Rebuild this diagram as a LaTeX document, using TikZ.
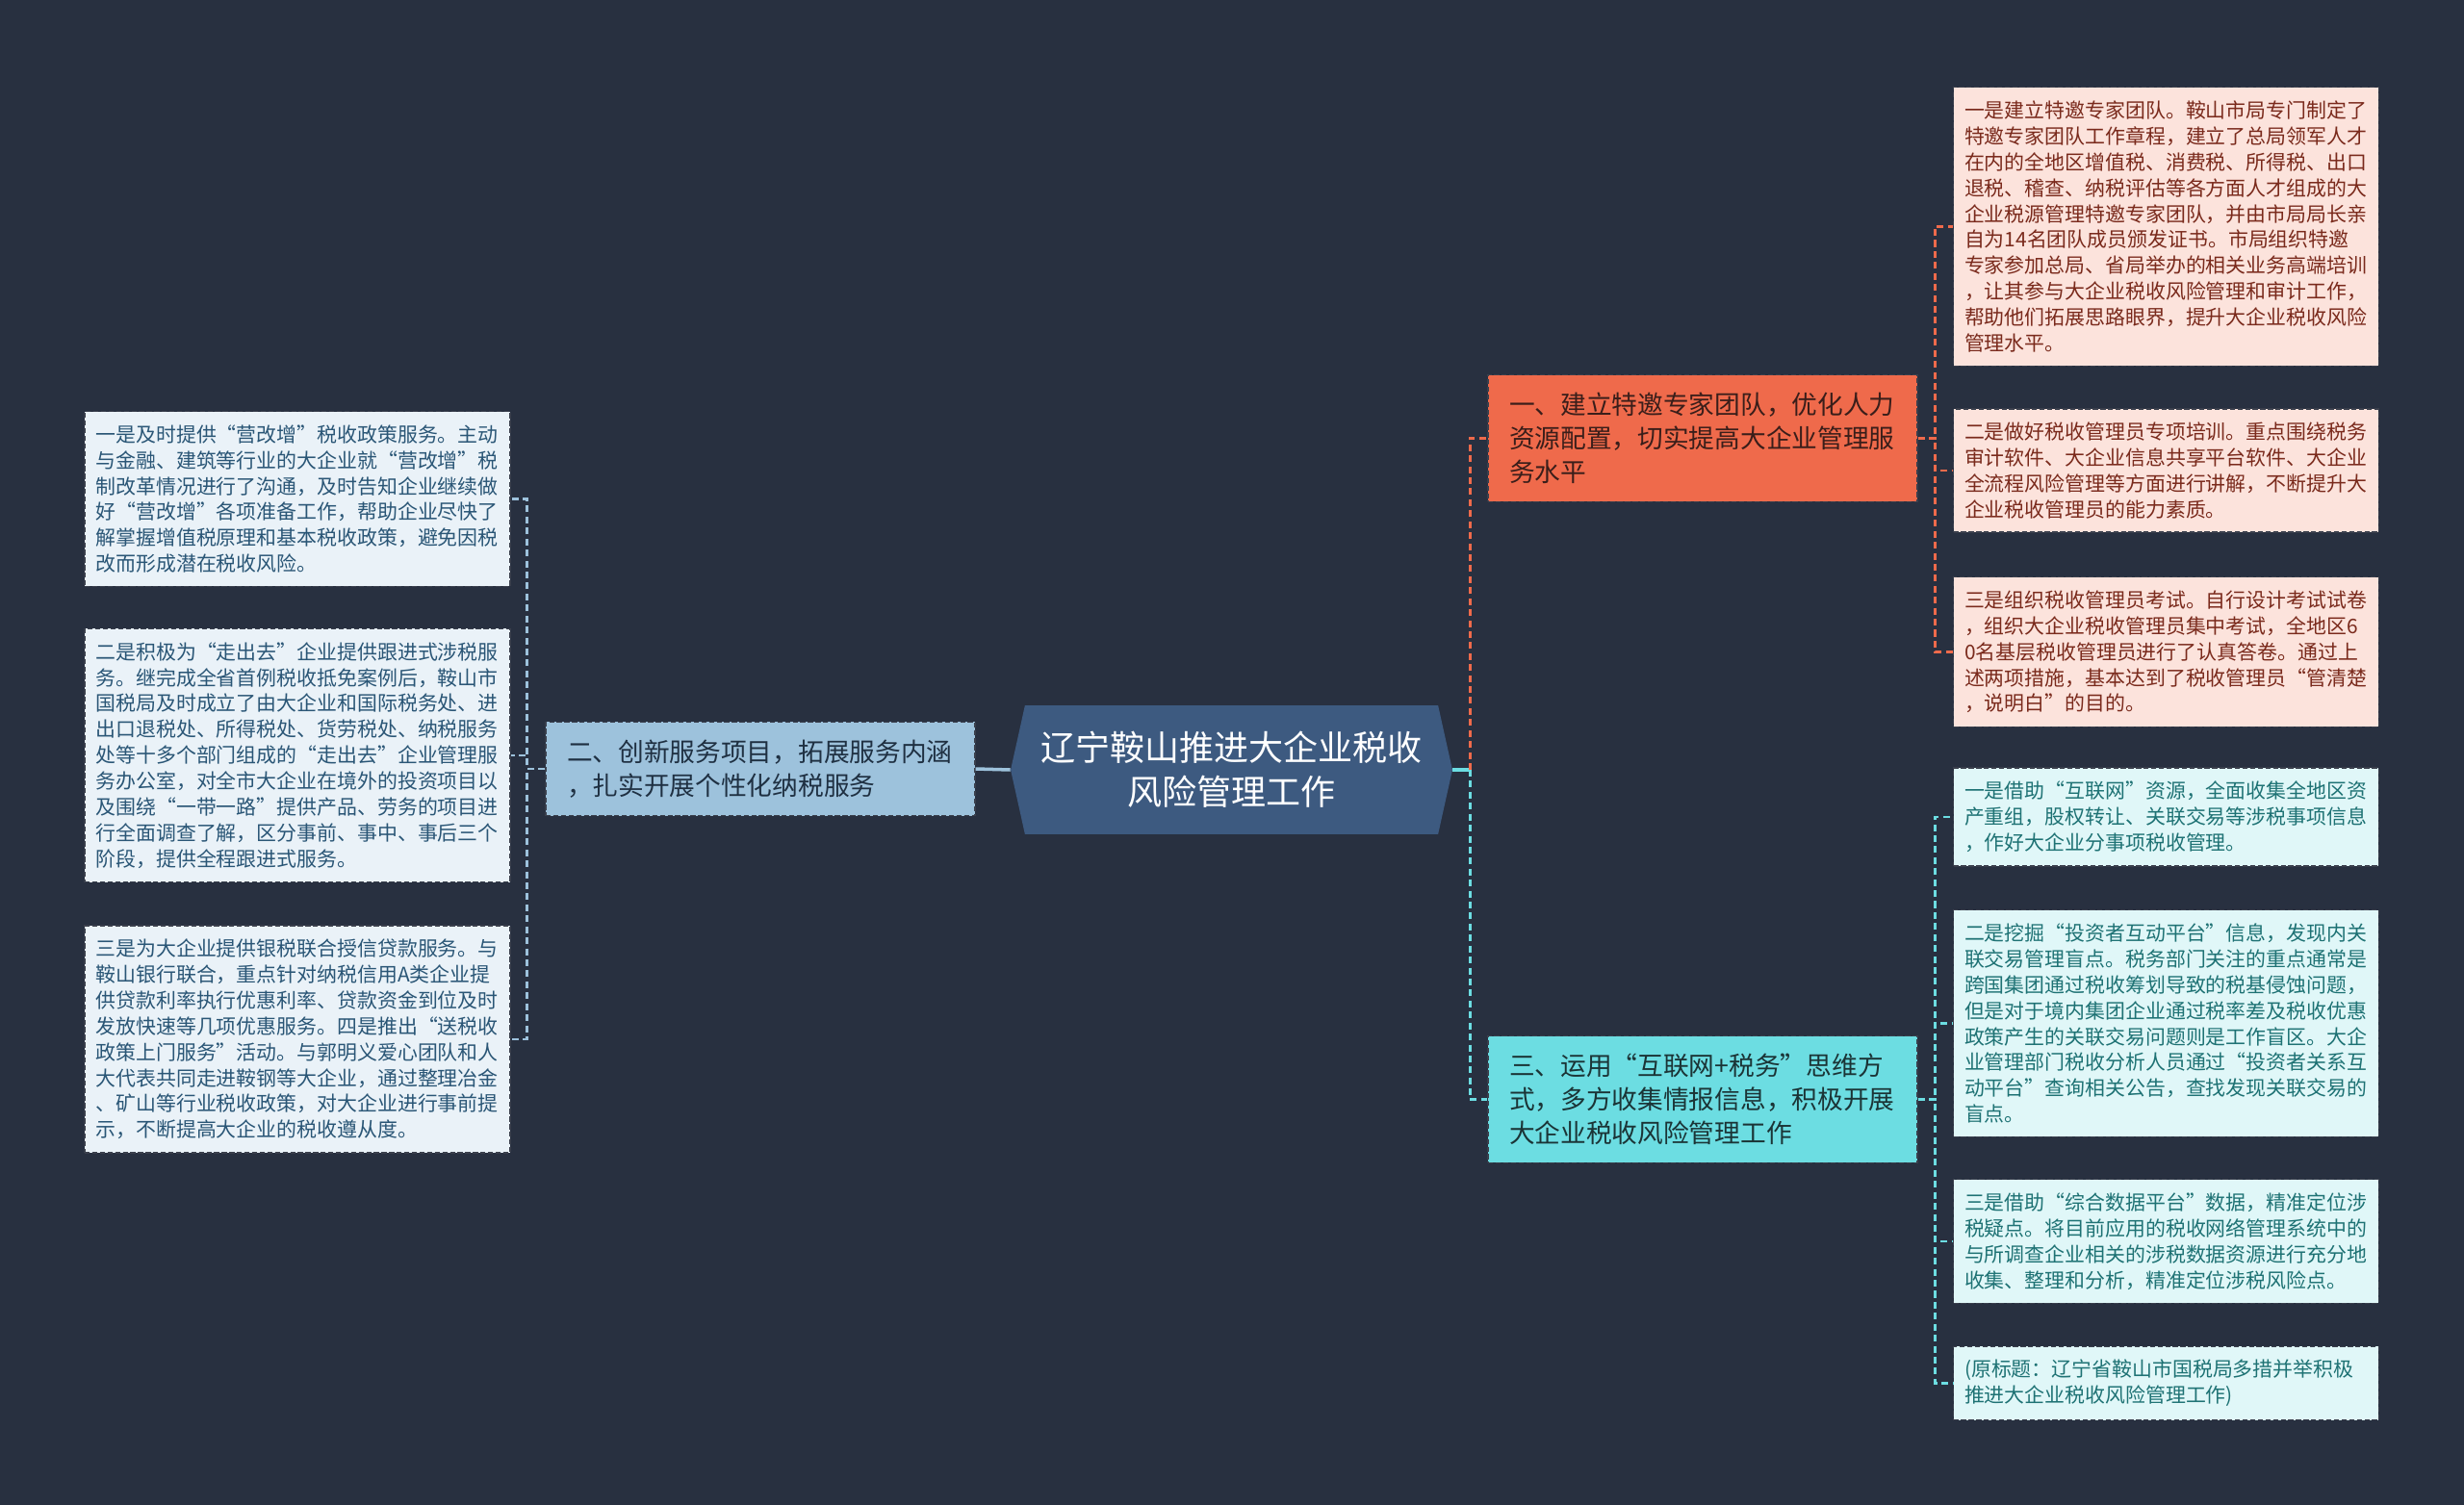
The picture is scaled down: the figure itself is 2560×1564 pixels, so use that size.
\documentclass[tikz,border=0pt]{standalone}
\usepackage{fontspec}
\newfontfamily\cjk{Noto Sans CJK SC}
\usepackage{tikz}
\definecolor{mmbg}{HTML}{283040}
\definecolor{mmhub}{HTML}{3D5A80}
\definecolor{mmedge}{HTML}{3A3F4C}
\definecolor{mmorange}{HTML}{EF6A4B}
\definecolor{mmcyan}{HTML}{6CDDE2}
\definecolor{mmblue}{HTML}{9DC2DC}
\definecolor{mmpinkfill}{HTML}{FCE3DC}
\definecolor{mmpinktext}{HTML}{7A2A1C}
\definecolor{mmicefill}{HTML}{E0F7F8}
\definecolor{mmicetext}{HTML}{1E7274}
\definecolor{mmskyfill}{HTML}{EAF2F8}
\definecolor{mmskytext}{HTML}{2A5676}
\usetikzlibrary{shapes.symbols}

\begin{document}
\begin{tikzpicture}[x=0.02cm,y=-0.02cm,
  taxhub/.style={shape=signal,signal to=east and west,signal pointer angle=155,
    fill=mmhub,text=white,minimum width=9.18cm,minimum height=2.68cm,
    align=center,inner sep=0pt,font=\cjk\fontsize{20.5}{26}\selectfont},
  taxbranch/.style={draw=mmedge,dash pattern=on 3pt off 1.5pt,line width=0.7pt,
    text width=8.04cm,align=left,inner xsep=0.44cm,inner ysep=0.37cm,
    font=\cjk\fontsize{15.2}{19.9}\selectfont},
  taxleaf/.style={draw=mmedge,dash pattern=on 3pt off 1.5pt,line width=0.7pt,
    text width=8.38cm,align=left,inner xsep=0.23cm,inner ysep=0.28cm,
    font=\cjk\fontsize{11.9}{15.3}\selectfont},
  taxlink/.style={line width=1.5pt,dash pattern=on 4pt off 2.5pt}
]
  % background
  \fill[mmbg] (0,0) rectangle (2560,1564);
  % centre topic
  \node[taxhub] (hub) at (1279.5,800) {辽宁鞍山推进大企业税收\\风险管理工作};
  % branch 1: experts (orange)
  \node[taxbranch,fill=mmorange,text={rgb,255:red,58;green,30;blue,26}] (br1) at (1769,455.5) {
    一、建立特邀专家团队，优化人力\\
    资源配置，切实提高大企业管理服\\
    务水平};
  % branch 2: services (blue)
  \node[taxbranch,fill=mmblue,text={rgb,255:red,31;green,48;blue,66}] (br2) at (790,799) {
    二、创新服务项目，拓展服务内涵\\
    ，扎实开展个性化纳税服务};
  % branch 3: internet + tax (cyan)
  \node[taxbranch,fill=mmcyan,text={rgb,255:red,27;green,52;blue,54}] (br3) at (1769,1142.5) {
    三、运用“互联网+税务”思维方\\
    式，多方收集情报信息，积极开展\\
    大企业税收风险管理工作};
  % leaves of branch 1
  \node[taxleaf,fill=mmpinkfill,text=mmpinktext] (r1) at (2250.5,235.5) {
    一是建立特邀专家团队。鞍山市局专门制定了\\
    特邀专家团队工作章程，建立了总局领军人才\\
    在内的全地区增值税、消费税、所得税、出口\\
    退税、稽查、纳税评估等各方面人才组成的大\\
    企业税源管理特邀专家团队，并由市局局长亲\\
    自为14名团队成员颁发证书。市局组织特邀\\
    专家参加总局、省局举办的相关业务高端培训\\
    ，让其参与大企业税收风险管理和审计工作，\\
    帮助他们拓展思路眼界，提升大企业税收风险\\
    管理水平。};
  \node[taxleaf,fill=mmpinkfill,text=mmpinktext] (r2) at (2250.5,489) {
    二是做好税收管理员专项培训。重点围绕税务\\
    审计软件、大企业信息共享平台软件、大企业\\
    全流程风险管理等方面进行讲解，不断提升大\\
    企业税收管理员的能力素质。};
  \node[taxleaf,fill=mmpinkfill,text=mmpinktext] (r3) at (2250.5,677.5) {
    三是组织税收管理员考试。自行设计考试试卷\\
    ，组织大企业税收管理员集中考试，全地区6\\
    0名基层税收管理员进行了认真答卷。通过上\\
    述两项措施，基本达到了税收管理员“管清楚\\
    ，说明白”的目的。};
  % leaves of branch 2
  \node[taxleaf,fill=mmskyfill,text=mmskytext] (l1) at (309,518.5) {
    一是及时提供“营改增”税收政策服务。主动\\
    与金融、建筑等行业的大企业就“营改增”税\\
    制改革情况进行了沟通，及时告知企业继续做\\
    好“营改增”各项准备工作，帮助企业尽快了\\
    解掌握增值税原理和基本税收政策，避免因税\\
    改而形成潜在税收风险。};
  \node[taxleaf,fill=mmskyfill,text=mmskytext] (l2) at (309,785) {
    二是积极为“走出去”企业提供跟进式涉税服\\
    务。继完成全省首例税收抵免案例后，鞍山市\\
    国税局及时成立了由大企业和国际税务处、进\\
    出口退税处、所得税处、货劳税处、纳税服务\\
    处等十多个部门组成的“走出去”企业管理服\\
    务办公室，对全市大企业在境外的投资项目以\\
    及围绕“一带一路”提供产品、劳务的项目进\\
    行全面调查了解，区分事前、事中、事后三个\\
    阶段，提供全程跟进式服务。};
  \node[taxleaf,fill=mmskyfill,text=mmskytext] (l3) at (309,1080) {
    三是为大企业提供银税联合授信贷款服务。与\\
    鞍山银行联合，重点针对纳税信用A类企业提\\
    供贷款利率执行优惠利率、贷款资金到位及时\\
    发放快速等几项优惠服务。四是推出“送税收\\
    政策上门服务”活动。与郭明义爱心团队和人\\
    大代表共同走进鞍钢等大企业，通过整理冶金\\
    、矿山等行业税收政策，对大企业进行事前提\\
    示，不断提高大企业的税收遵从度。};
  % leaves of branch 3
  \node[taxleaf,fill=mmicefill,text=mmicetext] (c1) at (2250.5,849) {
    一是借助“互联网”资源，全面收集全地区资\\
    产重组，股权转让、关联交易等涉税事项信息\\
    ，作好大企业分事项税收管理。};
  \node[taxleaf,fill=mmicefill,text=mmicetext] (c2) at (2250.5,1063.5) {
    二是挖掘“投资者互动平台”信息，发现内关\\
    联交易管理盲点。税务部门关注的重点通常是\\
    跨国集团通过税收筹划导致的税基侵蚀问题，\\
    但是对于境内集团企业通过税率差及税收优惠\\
    政策产生的关联交易问题则是工作盲区。大企\\
    业管理部门税收分析人员通过“投资者关系互\\
    动平台”查询相关公告，查找发现关联交易的\\
    盲点。};
  \node[taxleaf,fill=mmicefill,text=mmicetext] (c3) at (2250.5,1290) {
    三是借助“综合数据平台”数据，精准定位涉\\
    税疑点。将目前应用的税收网络管理系统中的\\
    与所调查企业相关的涉税数据资源进行充分地\\
    收集、整理和分析，精准定位涉税风险点。};
  \node[taxleaf,fill=mmicefill,text=mmicetext] (c4) at (2250.5,1437.5) {
    (原标题：辽宁省鞍山市国税局多措并举积极\\
    推进大企业税收风险管理工作)};
  % links from the centre
  \draw[line width=2pt,mmblue] (hub.west) -- (br2.east);
  \draw[line width=2pt,mmcyan] (hub.east) -- ++(18,0) coordinate (hubr);
  \draw[taxlink,mmorange] (hubr) |- (br1.west);
  \draw[taxlink,mmcyan] (hubr) |- (br3.west);
  % links to the leaves
  \draw[taxlink,mmorange] (br1.east) -- ++(18,0) |- (r1.west);
  \draw[taxlink,mmorange] (br1.east) -- ++(18,0) |- (r2.west);
  \draw[taxlink,mmorange] (br1.east) -- ++(18,0) |- (r3.west);
  \draw[taxlink,mmblue] (br2.west) -- ++(-19,0) |- (l1.east);
  \draw[taxlink,mmblue] (br2.west) -- ++(-19,0) |- (l2.east);
  \draw[taxlink,mmblue] (br2.west) -- ++(-19,0) |- (l3.east);
  \draw[taxlink,mmcyan] (br3.east) -- ++(18,0) |- (c1.west);
  \draw[taxlink,mmcyan] (br3.east) -- ++(18,0) |- (c2.west);
  \draw[taxlink,mmcyan] (br3.east) -- ++(18,0) |- (c3.west);
  \draw[taxlink,mmcyan] (br3.east) -- ++(18,0) |- (c4.west);
\end{tikzpicture}
\end{document}
